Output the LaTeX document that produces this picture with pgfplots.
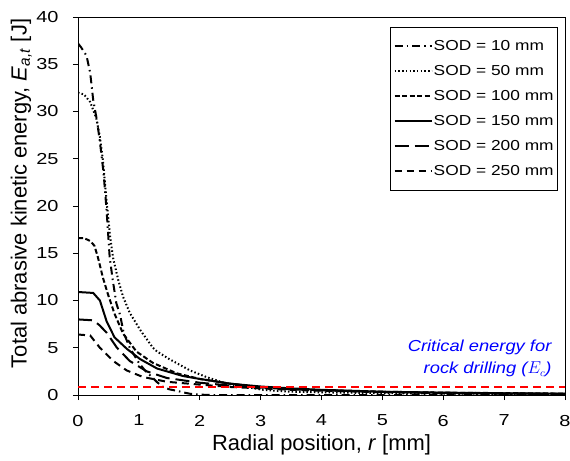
\documentclass[border=0pt]{standalone}
\usepackage{pgfplots}
\pgfplotsset{compat=1.18}
\usepackage{fontspec}
\setmainfont{Liberation Sans}
\newfontfamily\widetick{Liberation Sans}[FakeStretch=1.25]
\newfontfamily\widelegend{Liberation Sans}[FakeStretch=1.2]
\newfontfamily\wideblue{Liberation Sans}[FakeStretch=1.15]
\definecolor{critred}{RGB}{255,0,0}
\definecolor{critblue}{RGB}{0,0,255}
\begin{document}
\begin{tikzpicture}
\begin{axis}[
  scale only axis, width=487bp, height=378bp,
  xmin=0, xmax=8, ymin=0, ymax=40,
  xtick={0,1,...,8}, ytick={0,5,...,40},
  axis line style={line width=0.9bp},
  tick style={line width=0.9bp, black},
  tick align=outside, major tick length=5bp,
  xtick pos=bottom, ytick pos=left,
  /pgf/number format/assume math mode=true,
  ticklabel style={font=\widetick\fontsize{16}{18}\selectfont},
  xticklabel style={yshift=-11.5bp},
  yticklabel style={xshift=-11bp},
  xlabel={Radial position, \textit{r} [mm]},
  ylabel={Total abrasive kinetic energy, \textit{E}\textsubscript{\textit{a,t}} [J]},
  label style={font=\fontsize{22}{24}\selectfont},
  xlabel style={at={(axis description cs:0.5,-0.1455)}, anchor=base, inner sep=0pt},
  ylabel style={at={(axis description cs:-0.0945,0.533)}, anchor=south, inner sep=0pt},
  legend cell align=left,
  legend style={at={(0.9856,0.9735)}, anchor=north east, draw=black, line width=0.6bp,
    font=\widelegend\fontsize{14.5}{16}\selectfont, row sep=9.5bp, inner xsep=3bp, inner ysep=11bp,
    nodes={inner xsep=1bp}},
  legend image code/.code={\draw[#1, line width=2bp] (0bp,0bp) -- (37bp,0bp);},
  /tikz/every even column/.append style={column sep=0bp},
]
\addplot[black, line width=2bp, dash pattern=on 8bp off 4bp on 1.5bp off 4bp] coordinates {
(0,37.2)(0.05,36.8)(0.14,35.9)(0.2,34.1)(0.25,31.2)(0.31,29.1)(0.36,26.8)(0.42,23.5)(0.47,19.5)(0.52,14.6)(0.57,12.2)(0.63,9.7)(0.69,8.5)(0.75,6.6)(0.85,5.0)(1.0,3.4)(1.1,2.6)(1.23,1.8)(1.3,1.35)(1.4,0.85)(1.5,0.6)(1.62,0.45)(1.75,0.25)(1.85,0.12)(2.0,0.04)(2.2,0)(8,0)};
\addlegendentry{SOD = 10 mm}
\addplot[black, line width=2bp, dash pattern=on 1.5bp off 2.2bp] coordinates {
(0,32)(0.1,31.8)(0.2,31)(0.3,29.3)(0.36,27.3)(0.41,24.8)(0.47,20.5)(0.53,16.6)(0.58,14.4)(0.66,12.2)(0.74,10.4)(0.85,8.7)(1.02,6.9)(1.23,5.0)(1.3,4.6)(1.5,3.8)(1.67,3.2)(1.84,2.6)(2.11,1.9)(2.44,1.2)(2.77,0.85)(3.04,0.55)(3.5,0.35)(4,0.28)(5,0.2)(6,0.15)(7,0.12)(8,0.1)};
\addlegendentry{SOD = 50 mm}
\addplot[black, line width=2bp, dash pattern=on 5bp off 2.5bp] coordinates {
(0,16.6)(0.1,16.6)(0.2,16.3)(0.27,15.8)(0.33,14.5)(0.41,12.4)(0.49,10.7)(0.6,8.6)(0.74,6.5)(0.96,4.6)(1.23,3.4)(1.62,2.3)(2,1.7)(2.5,1.2)(3,0.85)(3.5,0.65)(4,0.5)(5,0.35)(6,0.25)(7,0.2)(8,0.15)};
\addlegendentry{SOD = 100 mm}
\addplot[black, line width=2bp] coordinates {
(0,10.9)(0.25,10.8)(0.36,10)(0.47,7.8)(0.6,6.1)(0.8,4.9)(1.02,3.8)(1.3,2.8)(1.73,2.0)(2,1.7)(2.5,1.2)(3,0.9)(3.5,0.7)(4,0.55)(5,0.35)(6,0.25)(7,0.18)(8,0.14)};
\addlegendentry{SOD = 150 mm}
\addplot[black, line width=2bp, dash pattern=on 14bp off 6bp] coordinates {
(0,8.0)(0.25,7.9)(0.35,7.4)(0.47,6.6)(0.64,5)(0.85,3.6)(1.13,2.5)(1.46,1.8)(2,1.3)(2.5,1.0)(3,0.8)(3.5,0.6)(4,0.5)(5,0.32)(6,0.22)(7,0.16)(8,0.12)};
\addlegendentry{SOD = 200 mm}
\addplot[black, line width=2bp, dash pattern=on 7bp off 5bp] coordinates {
(0,6.4)(0.2,6.3)(0.36,5)(0.58,3.6)(0.8,2.6)(1.07,1.9)(1.46,1.4)(2,1.1)(2.5,0.85)(3,0.7)(3.5,0.55)(4,0.45)(5,0.3)(6,0.2)(7,0.15)(8,0.1)};
\addlegendentry{SOD = 250 mm}
\addplot[draw=critred, line width=2bp, dash pattern=on 8bp off 5bp, forget plot] coordinates {(0,0.8)(8,0.8)};
\node[anchor=north east, align=right, inner sep=0pt, text=critblue,
  font=\wideblue\fontsize{16}{23}\selectfont\itshape] at (axis cs:7.78,5.9)
  {Critical energy for\\rock drilling ($E_c$)};
\end{axis}
\pgfresetboundingbox
\path (current axis.south west) ++(-78bp,-65bp) coordinate (bl);
\path (current axis.north east) ++(5bp,17bp) coordinate (tr);
\path (bl) rectangle (tr);
\end{tikzpicture}
\end{document}
